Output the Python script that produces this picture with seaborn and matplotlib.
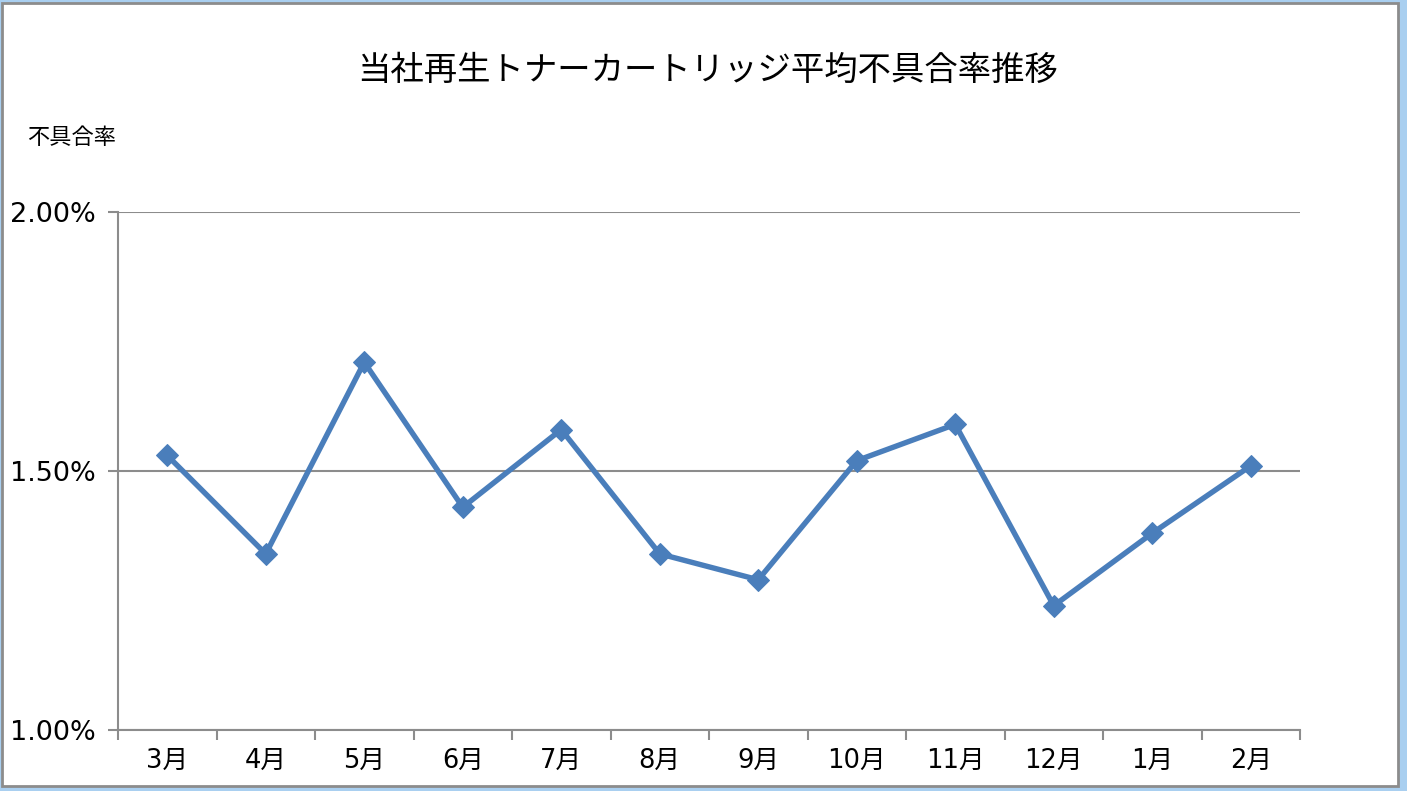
import numpy as np
import pandas as pd
import seaborn as sns
import matplotlib.pyplot as plt
from matplotlib.patches import Rectangle
from matplotlib.ticker import FixedLocator, FuncFormatter

months = ["3月", "4月", "5月", "6月", "7月", "8月", "9月", "10月", "11月", "12月", "1月", "2月"]
rates = [1.53, 1.34, 1.71, 1.43, 1.58, 1.34, 1.29, 1.52, 1.59, 1.24, 1.38, 1.51]
y_ticks = [1.00, 1.50, 2.00]

title = "当社再生トナーカートリッジ平均不具合率推移"
ylabel = "不具合率"

df = pd.DataFrame({"pos": np.arange(len(months)), "month": months, "rate": rates})

sns.set_style("white")
plt.rcParams["font.family"] = ["Noto Sans CJK JP", "DejaVu Sans"]
plt.rcParams["text.color"] = "black"
plt.rcParams["xtick.color"] = "black"
plt.rcParams["ytick.color"] = "black"
tick_fonts = ["DejaVu Sans", "Noto Sans CJK JP"]

W, H = 1407, 791
fig = plt.figure(figsize=(W / 100, H / 100), dpi=100)
fig.patch.set_facecolor("#a9cff0")
# white chart area with grey frame
fig.patches.append(Rectangle((2 / W, 1 - 786 / H), 1396 / W, 783 / H,
                             transform=fig.transFigure, facecolor="white",
                             edgecolor="#8c8c8c", linewidth=2, zorder=-5))

ax = fig.add_axes([118 / W, 1 - 730 / H, (1300 - 118) / W, (730 - 212) / H])
ax.set_zorder(1)
ax.set_facecolor("none")

sns.lineplot(data=df, x="pos", y="rate", ax=ax, color="#4a7ebb", linewidth=3.9,
             marker="D", markersize=11.5, markeredgecolor="#4a7ebb", zorder=3)

ax.set_xlim(-0.5, len(months) - 0.5)
ax.set_ylim(1.0, 2.0)

# category boundary tick marks, labels at centres
ax.xaxis.set_major_locator(FixedLocator(np.arange(-0.5, len(months), 1.0)))
ax.xaxis.set_major_formatter(FuncFormatter(lambda v, p: ""))
ax.set_xticks(np.arange(len(months)), months, minor=True)
ax.tick_params(axis="x", which="major", direction="out", length=7, width=1.5,
               color="#8c8c8c", bottom=True)
ax.tick_params(axis="x", which="minor", length=0, labelsize=18.5, pad=13)
for lab in ax.get_xticklabels(minor=True):
    lab.set_family(tick_fonts)

ax.set_yticks(y_ticks)
ax.set_yticklabels([f"{v:.2f}%" for v in y_ticks])
ax.tick_params(axis="y", direction="out", length=7, width=1.5, color="#8c8c8c",
               left=True, labelsize=19.5, pad=9)
for lab in ax.get_yticklabels():
    lab.set_family(tick_fonts)

ax.grid(axis="y", color="#8c8c8c", linewidth=1.5)
ax.grid(axis="x", visible=False)
for side in ["top", "right"]:
    ax.spines[side].set_visible(False)
for side in ["left", "bottom"]:
    ax.spines[side].set_color("#8c8c8c")
    ax.spines[side].set_linewidth(1.5)
ax.set_xlabel("")
ax.set_ylabel("")

fig.text(708 / W, 1 - 70 / H, title, ha="center", va="center", fontsize=24)
fig.text(27 / W, 1 - 137 / H, ylabel, ha="left", va="center", fontsize=16)

fig.savefig("out.png", dpi=100, facecolor=fig.get_facecolor())
